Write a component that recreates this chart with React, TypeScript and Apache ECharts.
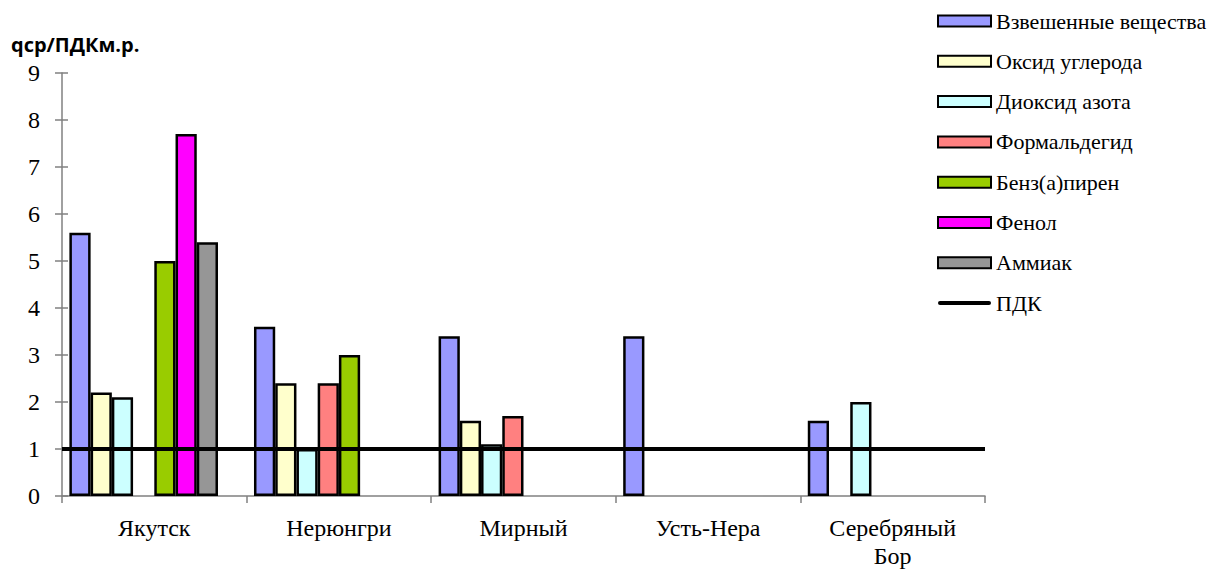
import React, { useEffect, useRef } from "react";
import * as echarts from "echarts";

const categories = ["Якутск", "Нерюнгри", "Мирный", "Усть-Нера", "Серебряный\nБор"];
const seriesNames = [
  "Взвешенные вещества",
  "Оксид углерода",
  "Диоксид азота",
  "Формальдегид",
  "Бенз(а)пирен",
  "Фенол",
  "Аммиак",
];
const colors = ["#9999FF", "#FFFFCC", "#CCFFFF", "#FF8080", "#99CC00", "#FF00FF", "#969696"];
const suspended = [5.6, 3.6, 3.4, 3.4, 1.6];
const carbonOxide = [2.2, 2.4, 1.6, null, null];
const nitrogenDioxide = [2.1, 1.0, 1.1, null, 2.0];
const formaldehyde = [null, 2.4, 1.7, null, null];
const benzopyrene = [5.0, 3.0, null, null, null];
const phenol = [7.7, null, null, null, null];
const ammonia = [5.4, null, null, null, null];
const seriesValues = [suspended, carbonOxide, nitrogenDioxide, formaldehyde, benzopyrene, phenol, ammonia];
const pdkName = "ПДК";
const pdkValue = 1;
const yTicks = { min: 0, max: 9, interval: 1 };

export default function App() {
  const ref = useRef<HTMLDivElement>(null);
  useEffect(() => {
    if (!ref.current) return;
    const chart = echarts.init(ref.current, undefined, { renderer: "svg" });
    const serif = "Liberation Serif";
    const barSeries = seriesNames.map((name, i) => ({
      name,
      type: "bar",
      data: seriesValues[i],
      barGap: "0%",
      barCategoryGap: "8%",
      itemStyle: { color: colors[i], borderColor: "#000", borderWidth: 2.5 },
      z: 2,
    }));
    chart.setOption({
      animation: false,
      backgroundColor: "#fff",
      textStyle: { fontFamily: serif },
      graphic: [
        {
          type: "text",
          left: 11,
          top: 34,
          style: {
            text: "qср/ПДКм.р.",
            font: "bold 20px 'Open Sans'",
            fill: "#000",
          },
        },
      ],
      grid: {
        left: 62,
        right: 223,
        top: 73,
        bottom: 74,
        containLabel: false,
        outerBoundsMode: "none",
      },
      legend: {
        orient: "vertical",
        left: 937,
        top: 10,
        padding: 0,
        itemWidth: 53,
        itemHeight: 11,
        itemGap: 18.3,
        textStyle: { fontFamily: serif, fontSize: 22, lineHeight: 22, color: "#000" },
        data: [
          ...seriesNames.map((n) => ({ name: n, icon: "rect" })),
          { name: pdkName, icon: "path://M2,0 L51,0 A2,2 0 0 1 51,4 L2,4 A2,2 0 0 1 2,0 Z", itemStyle: { color: "#000", borderWidth: 0 } },
        ],
      },
      xAxis: {
        type: "category",
        data: categories,
        axisLine: { lineStyle: { color: "#808080", width: 1.5 } },
        axisTick: { show: true, length: 7, lineStyle: { color: "#808080", width: 1.5 } },
        axisLabel: { color: "#000", fontSize: 24, fontFamily: serif, margin: 18, lineHeight: 28 },
      },
      yAxis: [
        {
          type: "value",
          ...yTicks,
          splitLine: { show: false },
          axisLine: { show: true, lineStyle: { color: "#808080", width: 1.5 } },
          axisTick: { show: true, length: 7, lineStyle: { color: "#808080", width: 1.5 } },
          axisLabel: { color: "#000", fontSize: 24, fontFamily: serif, margin: 22 },
        },
        {
          type: "value",
          position: "left",
          ...yTicks,
          splitLine: { show: false },
          axisLine: { show: false },
          axisTick: { show: true, inside: true, length: 6, lineStyle: { color: "#808080", width: 1.5 } },
          axisLabel: { show: false },
        },
      ],
      series: [
        ...barSeries,
        {
          name: "placeholder",
          type: "bar",
          data: categories.map(() => null),
          barGap: "0%",
          barCategoryGap: "8%",
        },
        {
          name: pdkName,
          type: "line",
          data: [],
          symbol: "none",
          showSymbol: false,
          lineStyle: { color: "#000", width: 4 },
          itemStyle: { color: "#000" },
          z: 10,
          markLine: {
            silent: true,
            symbol: "none",
            label: { show: false },
            lineStyle: { color: "#000", width: 4, type: "solid" },
            data: [{ yAxis: pdkValue }],
            z: 10,
          },
        },
      ],
    });
    return () => chart.dispose();
  }, []);
  return (
    <div
      ref={ref}
      style={{ position: "fixed", left: 0, top: 0, width: 1208, height: 570 }}
    />
  );
}
